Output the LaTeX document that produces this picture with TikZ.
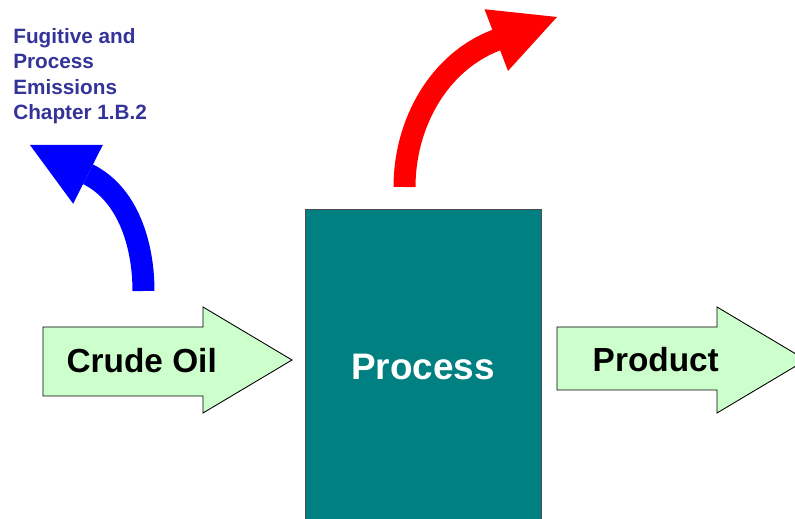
\documentclass[tikz,border=0pt]{standalone}
\usepackage{fontspec}
\setsansfont{Liberation Sans}
\usetikzlibrary{arrows.meta}
\definecolor{processteal}{RGB}{0,128,128}
\definecolor{flowgreen}{RGB}{204,255,204}
\definecolor{notenavy}{RGB}{51,51,153}
\tikzset{ flow/.style = { draw = black % feed and product arrows
        , fill = flowgreen
        , line width = 0.5pt
        }
        , flow_text/.style = { inner sep = 0pt % arrow captions
        , font = \sffamily\bfseries\fontsize{19}{23}\selectfont
        }
        , emit/.style = { line width = 0.44cm % curved emission arrows
        , -{Triangle[length=1.3cm, width=1.32cm, line width=0pt]}
        }
        }

\begin{document}
\begin{tikzpicture}[x=0.02cm, y=-0.02cm,
        box_style/.style={rectangle,draw=black!70,line width=0.5pt,fill=processteal,text=white,minimum width=4.72cm,minimum height=6.31cm,font=\sffamily\bfseries\fontsize{21}{25}\selectfont},
        note_style/.style={align=left,inner sep=0pt,text=notenavy,font=\sffamily\bfseries\fontsize{11.8}{14.3}\selectfont}]
        \useasboundingbox (0,0) rectangle (795,519);

        \draw [flow] (43,327) -- (203,327) -- (203,307) -- (292,360) -- (203,413) -- (203,396) -- (43,396) -- cycle;
        \draw [flow] (557,327) -- (717,327) -- (717,307) -- (806,360) -- (717,413) -- (717,390) -- (557,390) -- cycle;

        \node [flow_text, anchor=base] (crude) at (141.7,372.3) {Crude Oil};
        \node [flow_text, anchor=base] (product) at (655.8,371.7) {Product};
        \node [box_style] (process) at (423,367) {Process};
        \node [note_style, anchor=north west] (fugitive) at (13,28.5) {Fugitive and\\Process\\Emissions\\Chapter 1.B.2};

        \coordinate (blue_start) at (143.5,291);
        \coordinate (blue_head) at (88.5,174.5);
        \coordinate (blue_end) at (30,145);
            \coordinate (ctrl1)  at (143.5,246);
            \coordinate (ctrl2)  at (128.7,194.8);
                \draw [emit, blue] (blue_start) .. controls (ctrl1) and (ctrl2) .. (blue_head) -- (blue_end);
        \coordinate (red_start) at (404.5,187);
        \coordinate (red_head) at (496.5,40);
        \coordinate (red_end) at (557,17);
            \coordinate (ctrl3)  at (404.5,124.4);
            \coordinate (ctrl4)  at (438,62.2);
                \draw [emit, red] (red_start) .. controls (ctrl3) and (ctrl4) .. (red_head) -- (red_end);

\end{tikzpicture}
\end{document}
